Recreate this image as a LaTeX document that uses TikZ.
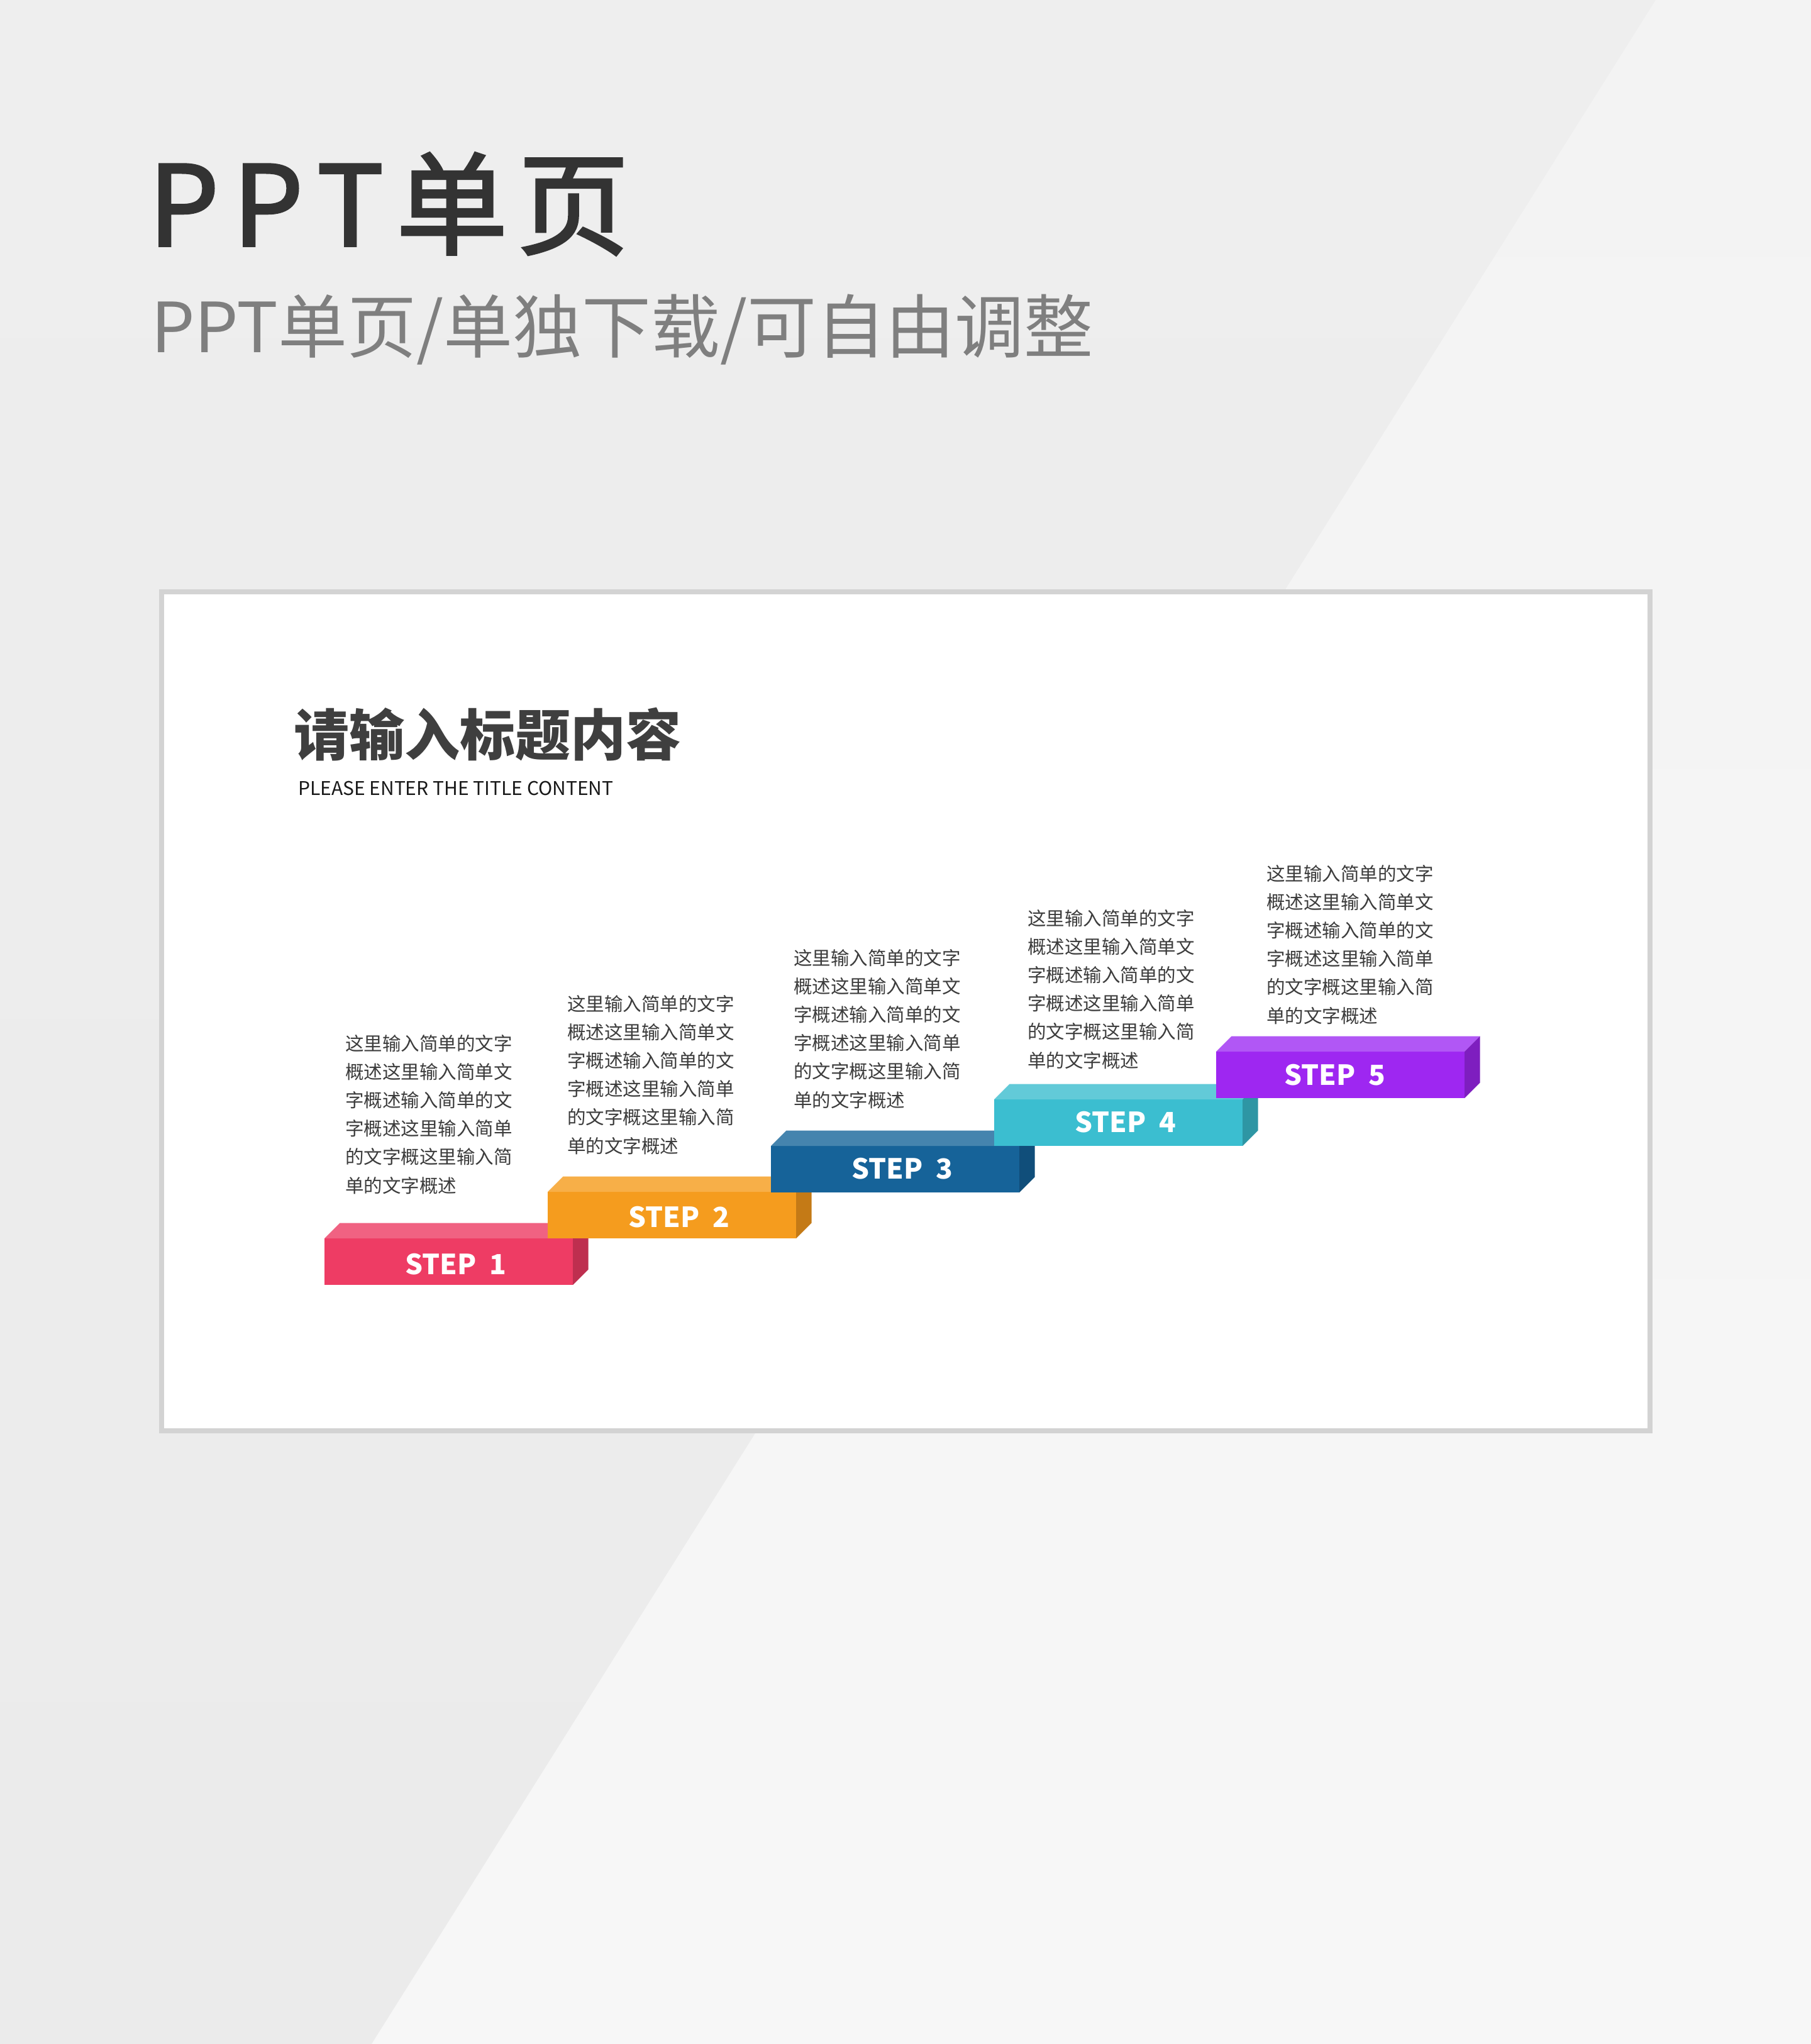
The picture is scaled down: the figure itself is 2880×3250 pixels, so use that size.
\documentclass[tikz,border=0pt]{standalone}
\usepackage{fontspec}
\newfontfamily\cjk{Noto Sans CJK SC}
\newfontfamily\cjkmed{Noto Sans CJK SC}[FakeBold=2.2]
\usetikzlibrary{calc}
\definecolor{bgL}{HTML}{EEEEEE}
\definecolor{bgLb}{HTML}{EBEBEB}
\definecolor{bgR}{HTML}{F3F3F3}
\definecolor{bgRb}{HTML}{F7F7F7}
\definecolor{cardline}{HTML}{D3D3D3}
\definecolor{titlec}{HTML}{333333}
\definecolor{subc}{HTML}{7F7F7F}
\definecolor{headc}{HTML}{3F3F3F}
\definecolor{descc}{HTML}{3C3C3C}
\definecolor{s1f}{HTML}{EE3C64}\definecolor{s1t}{HTML}{F06282}\definecolor{s1s}{HTML}{BE2F4F}
\definecolor{s2f}{HTML}{F59C1E}\definecolor{s2t}{HTML}{F7AF48}\definecolor{s2s}{HTML}{C47A16}
\definecolor{s3f}{HTML}{166399}\definecolor{s3t}{HTML}{4584AE}\definecolor{s3s}{HTML}{104E7A}
\definecolor{s4f}{HTML}{3BBED0}\definecolor{s4t}{HTML}{62CAD8}\definecolor{s4s}{HTML}{2E96A4}
\definecolor{s5f}{HTML}{9E27F1}\definecolor{s5t}{HTML}{B157F5}\definecolor{s5s}{HTML}{7E1EBF}
\tikzset{
  stepface/.style={draw=none, inner sep=0pt, outer sep=0pt, minimum width=395pt, minimum height=74pt},
  steplabel/.style={inner sep=0pt, text=white, font={\cjk\bfseries\fontsize{44}{44}\selectfont}},
  desc/.style={inner sep=0pt, text=descc, font={\cjk\fontsize{29.5}{36}\selectfont}},
}
\begin{document}
\begin{tikzpicture}[x=1pt,y=-1pt]
\useasboundingbox (0,0) rectangle (2880,3250);
% background
\shade[top color=bgL, bottom color=bgLb] (0,0) rectangle (2880,3250);
\shade[top color=bgR, bottom color=bgRb] (2633,0) -- (2880,0) -- (2880,3250) -- (591,3250) -- cycle;
% titles
\node[inner sep=0pt, anchor=base west, text=titlec, font={\cjkmed\fontsize{177}{177}\selectfont}] (title) at (236,391)
  {P\hspace{22pt}P\hspace{22pt}T\hspace{20pt}单\hspace{16pt}页};
\node[inner sep=0pt, anchor=base west, text=subc, font={\cjk\fontsize{110}{110}\selectfont}] (subtitle) at (240,560)
  {PPT单页/单独下载/可自由调整};
% card
\draw[cardline, line width=7.5pt, fill=white] (257,941) rectangle (2624,2275);
\node[inner sep=0pt, anchor=base west, text=headc, font={\cjk\bfseries\fontsize{88}{88}\selectfont}] (head) at (467,1201)
  {请输入标题内容};
\node[inner sep=0pt, anchor=base west, text=black!90, font={\cjk\fontsize{30}{30}\selectfont}] (headen) at (474,1264)
  {PLEASE ENTER THE TITLE CONTENT};
% steps
\foreach \i/\x/\y/\dx/\by in {1/516/1969/11.5/57, 2/871/1895/11.5/56, 3/1226/1822/11.5/52, 4/1581/1748/11/52, 5/1934/1672/-8.5/53}{
  \node[stepface, fill=s\i f, anchor=north west] (s\i) at (\x,\y) {};
  \fill[s\i t] (s\i.north west) -- ++(24.5,-24.5) -- ($(s\i.north east)+(24.5,-24.5)$) -- (s\i.north east) -- cycle;
  \fill[s\i s] (s\i.north east) -- ++(24.5,-24.5) -- ($(s\i.south east)+(24.5,-24.5)$) -- (s\i.south east) -- cycle;
  \node[steplabel, anchor=base] (l\i) at ($(s\i.north west)+(197.5+\dx,\by)$) {STEP\hspace{21pt}\i};
}
% descriptions
\foreach \j/\xx/\yy in {1/549/1670, 2/902/1607, 3/1262/1534, 4/1634/1471, 5/2014/1400}{
  \foreach \ln [count=\k] in {这里输入简单的文字, 概述这里输入简单文, 字概述输入简单的文, 字概述这里输入简单, 的文字概这里输入简, 单的文字概述}{
    \node[desc, anchor=base west] (d\j-\k) at (\xx,{\yy+(\k-1)*45.2}) {\ln};
  }
}
\end{tikzpicture}
\end{document}
